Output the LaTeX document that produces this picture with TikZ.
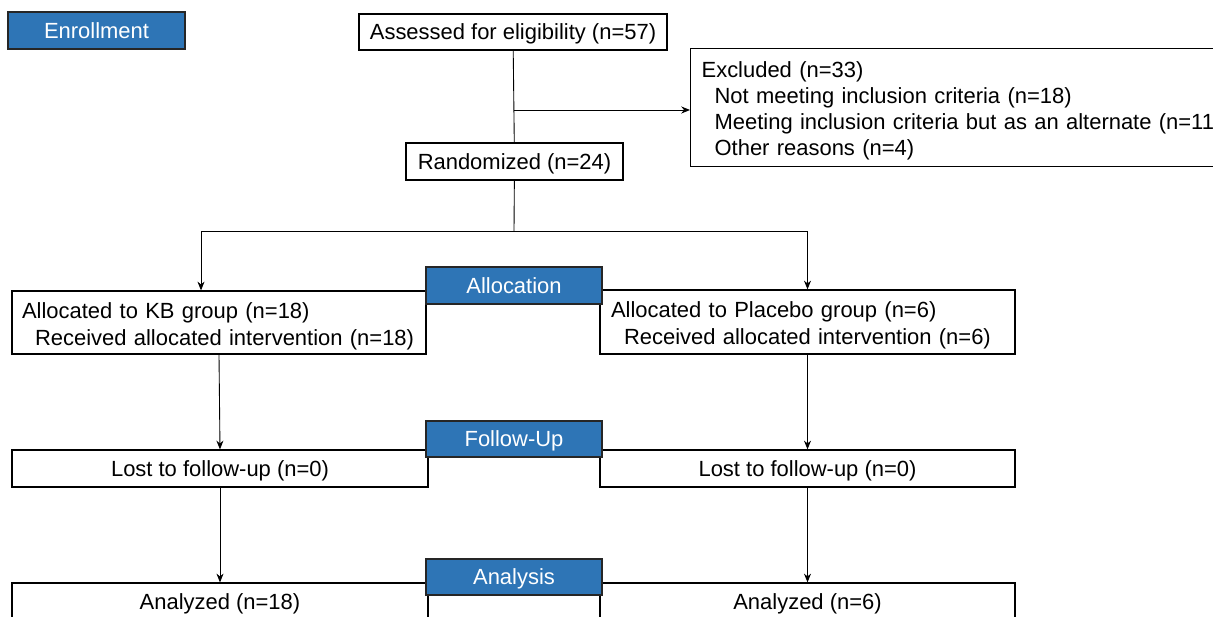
\documentclass[tikz,border=0pt]{standalone}
\usepackage{fontspec}
\setmainfont{Liberation Sans}
\usetikzlibrary{arrows.meta}
\definecolor{hdrblue}{HTML}{2E75B6}

\begin{document}
\begin{tikzpicture}[x=0.02cm,y=-0.02cm,
        box/.style={draw=black,line width=0.7pt,fill=white,inner sep=0pt,
            font=\fontsize{12.5}{14.9}\selectfont},
        single/.style={box,text depth=0pt,minimum height=0.74cm},
        multi/.style={box,align=left,text height=13.3pt},
        stage/.style={single,fill=hdrblue,draw=black!85,text=white,minimum width=3.52cm},
        wire/.style={line width=0.5pt},
        link/.style={wire,-{Stealth[length=5pt,width=4pt]}}]
    \useasboundingbox (0,0) rectangle (1213,617);
    % enrollment
    \node[single,minimum width=6.16cm,minimum height=0.72cm] (assess) at (513,32) {Assessed for eligibility (n=57)};
    \node[multi,anchor=north west,text width=10.56cm,inner xsep=0.22cm,minimum height=2.36cm,text height=12.6pt] (excl) at (690,48)
        {Excluded (n=33)\\
        \hspace*{0.26cm}\mbox{Not meeting inclusion criteria (n=18)}\\
        \hspace*{0.26cm}\mbox{Meeting inclusion criteria but as an alternate (n=11)}\\
        \hspace*{0.26cm}\mbox{Other reasons (n=4)}};
    \node[single,minimum width=4.34cm] (rand) at (514.5,161.5) {Randomized (n=24)};
    % allocation
    \node[multi,text width=7.88cm,inner xsep=0.2cm,minimum height=1.26cm] (kb) at (219,322.5)
        {\mbox{Allocated to KB group (n=18)}\\[0.5pt]
        \hspace*{0.26cm}\mbox{Received allocated intervention (n=18)}};
    \node[multi,text width=7.86cm,inner xsep=0.22cm,minimum height=1.28cm] (plac) at (807.5,322)
        {\mbox{Allocated to Placebo group (n=6)}\\[0.5pt]
        \hspace*{0.26cm}\mbox{Received allocated intervention (n=6)}};
    % follow-up and analysis
    \node[single,minimum width=8.32cm] (lostkb) at (220,468.5) {Lost to follow-up (n=0)};
    \node[single,minimum width=8.3cm] (lostpl) at (807.5,468.5) {Lost to follow-up (n=0)};
    \node[single,minimum width=8.32cm] (anakb) at (220,601.5) {Analyzed (n=18)};
    \node[single,minimum width=8.3cm] (anapl) at (807.5,601.5) {Analyzed (n=6)};
    % stage labels
    \node[stage,minimum width=3.54cm] (enroll) at (96.5,30.5) {Enrollment};
    \node[stage] (alloc) at (514,285.5) {Allocation};
    \node[stage,minimum height=0.72cm] (follow) at (514,439) {Follow-Up};
    \node[stage,minimum height=0.72cm] (analysis) at (514,577) {Analysis};
    % connectors
    \coordinate (exsplit) at (514,110);
    \coordinate (fork) at (514,231);
    \draw[wire] (assess) -- (rand);
    \draw[link] (exsplit) -- (exsplit -| excl.west);
    \draw[wire] (rand) -- (fork);
    \draw[link] (fork) -| ([xshift=-0.36cm]kb.north);
    \draw[link] (fork) -| (plac.north);
    \draw[link] (kb.south) -- (lostkb.north);
    \draw[link] (plac.south) -- (lostpl.north);
    \draw[link] (lostkb.south) -- (anakb.north);
    \draw[link] (lostpl.south) -- (anapl.north);
\end{tikzpicture}
\end{document}
